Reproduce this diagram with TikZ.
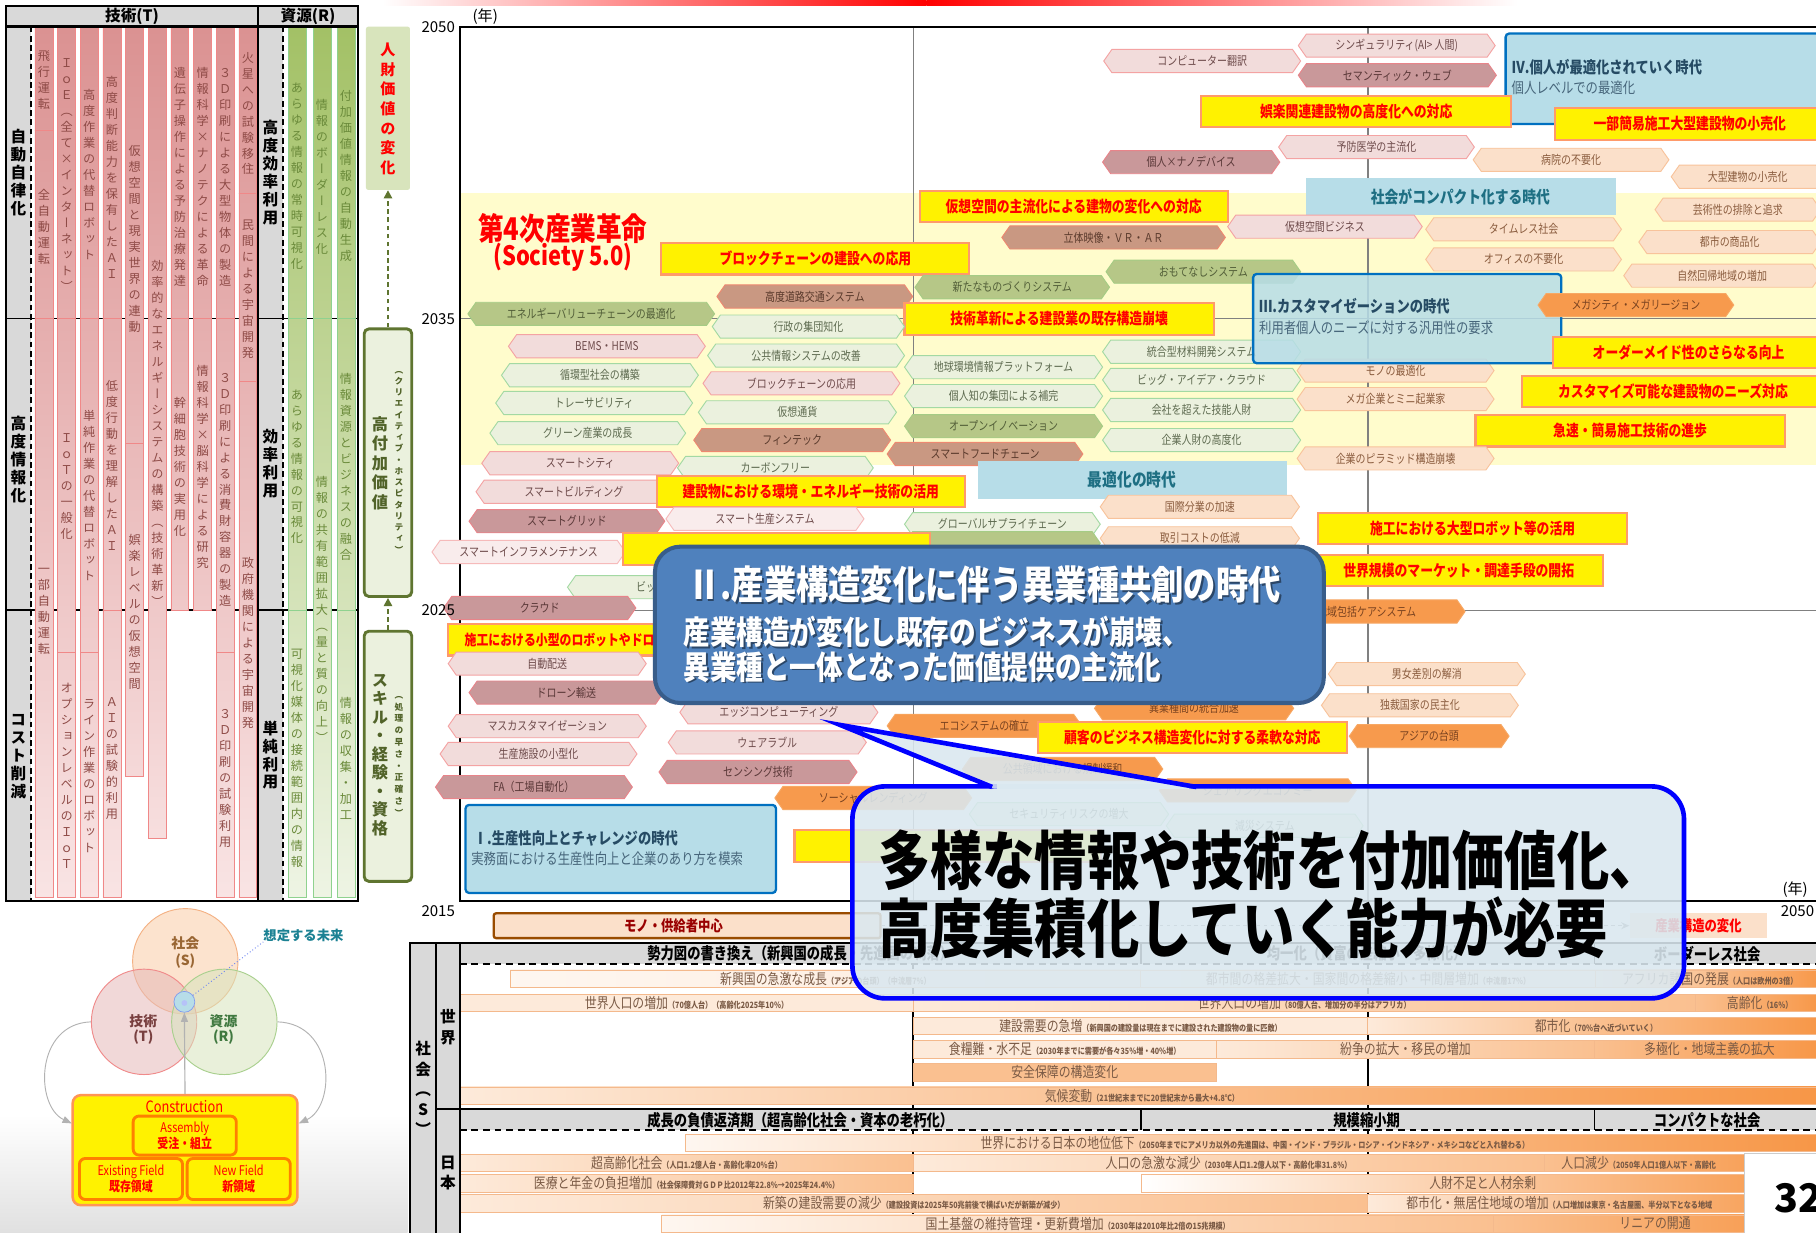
\documentclass[tikz,border=0pt]{standalone}
\usepackage{fontspec}
\setmainfont{Noto Sans CJK JP}
\newfontfamily\nc{Noto Sans CJK JP}[FakeStretch=0.82]
\newfontfamily\vjp{Noto Sans CJK JP}[RawFeature=+vert]
\usetikzlibrary{arrows.meta}
\definecolor{rT}{HTML}{DB9292}\definecolor{rB}{HTML}{F9E4E4}\definecolor{rD}{HTML}{F08888}\definecolor{rX}{HTML}{8E4A46}
\definecolor{gT}{HTML}{A3C166}\definecolor{gB}{HTML}{EEF4E4}\definecolor{gD}{HTML}{8FD28F}\definecolor{gX}{HTML}{6A8A3A}
\definecolor{hdr}{HTML}{D9D9D9}
\definecolor{pkF}{HTML}{F2DCDB}\definecolor{pkD}{HTML}{F4A3A3}\definecolor{pkT}{HTML}{6E4B4B}
\definecolor{vpkF}{HTML}{F9ECEC}\definecolor{vpkD}{HTML}{F6BABA}
\definecolor{mvF}{HTML}{C9989A}\definecolor{mvD}{HTML}{E8848A}\definecolor{mvT}{HTML}{5A3838}
\definecolor{tnF}{HTML}{C99882}\definecolor{tnD}{HTML}{EE8870}\definecolor{tnT}{HTML}{5A3A2C}
\definecolor{lgF}{HTML}{EBF1DE}\definecolor{lgD}{HTML}{A3D9A3}\definecolor{lgT}{HTML}{5E6B50}
\definecolor{dgF}{HTML}{B6C787}\definecolor{dgD}{HTML}{A5CC85}\definecolor{dgT}{HTML}{525E38}
\definecolor{loF}{HTML}{FBE0CA}\definecolor{loD}{HTML}{F8C39B}\definecolor{loT}{HTML}{8A5C3E}
\definecolor{orF}{HTML}{F79A4D}\definecolor{orD}{HTML}{F7A864}\definecolor{orT}{HTML}{7A4320}
\definecolor{ybD}{HTML}{FF9A6A}
\definecolor{eraF}{HTML}{B7DDE8}\definecolor{eraD}{HTML}{0070C0}\definecolor{eraT}{HTML}{264B64}
\definecolor{iiF}{HTML}{4F81BD}\definecolor{iiD}{HTML}{385D8A}
\definecolor{coF}{HTML}{DAE8F0}
\definecolor{barD}{HTML}{F4B98C}\definecolor{barL}{HTML}{FDEADA}\definecolor{barM}{HTML}{FAC090}\definecolor{barO}{HTML}{F79646}\definecolor{barT}{HTML}{7A5A45}
\definecolor{bxA}{HTML}{D8E4BC}\definecolor{bxB}{HTML}{EBF1DE}\definecolor{bxD}{HTML}{5F7530}
\definecolor{sF}{HTML}{FBD5B5}\definecolor{sD}{HTML}{F4B183}
\definecolor{tF}{HTML}{E6B9B8}\definecolor{tD}{HTML}{F08A8A}
\definecolor{qF}{HTML}{D7E4BD}\definecolor{qD}{HTML}{A9D08E}
\makeatletter
\def\vt#1{\vt@a#1\vt@end}
\def\vt@a#1{#1\vt@b}
\def\vt@b#1{\ifx#1\vt@end\else\\#1\expandafter\vt@b\fi}
\def\vt@end{}
\makeatother
\tikzset{
 pk/.style={fill=pkF,draw=pkD,line width=0.8}, pkt/.style={text=pkT},
 vpk/.style={fill=vpkF,draw=vpkD,line width=0.8}, vpkt/.style={text=pkT},
 mv/.style={fill=mvF,draw=mvD,line width=0.8}, mvt/.style={text=mvT},
 tn/.style={fill=tnF,draw=tnD,line width=0.8}, tnt/.style={text=tnT},
 lg/.style={fill=lgF,draw=lgD,line width=0.8}, lgt/.style={text=lgT},
 dg/.style={fill=dgF,draw=dgD,line width=0.8}, dgt/.style={text=dgT},
 lor/.style={fill=loF,draw=loD,line width=0.8}, lort/.style={text=loT},
 org/.style={fill=orF,draw=orD,line width=0.8}, orgt/.style={text=orT},
 hxt/.style={inner sep=0,font=\nc\fontsize{10.5}{12}\selectfont},
 ybox/.style={fill=yellow,draw=ybD,line width=1.8,inner sep=0,minimum height=27,text=red,font=\nc\bfseries\fontsize{13.5}{15}\selectfont},
 era/.style={fill=eraF,draw=eraD,line width=2,rounded corners=3},
 etit/.style={text=eraT,font=\nc\bfseries\fontsize{14}{16}\selectfont,anchor=west,inner sep=0},
 esub/.style={text=eraT!85,font=\nc\fontsize{13}{15}\selectfont,anchor=west,inner sep=0},
 bart/.style={text=barT,font=\nc\fontsize{12.5}{14}\selectfont,inner sep=0},
 hd/.style={font=\nc\bfseries\fontsize{14}{16}\selectfont,inner sep=0},
 yr/.style={font=\fontsize{13}{15}\selectfont,inner sep=0},
 vtxt/.style={align=center,inner sep=0,font=\vjp\fontsize{10.5}{13.8}\selectfont},
 vlab/.style={align=center,inner sep=0,font=\vjp\bfseries\fontsize{13.5}{15.5}\selectfont},
 wt/.style={text=white,font=\nc\bfseries,anchor=west,inner sep=0},
 sh/.style={text=black,text opacity=0.45,font=\nc\bfseries,anchor=west,inner sep=0},
}
\newcounter{hxc}
\newcommand\hx[5]{\stepcounter{hxc}%
  \filldraw[#1] (#2,#4) -- ({#2+7},{#4-10}) -- ({#3-7},{#4-10}) -- (#3,#4) -- ({#3-7},{#4+10}) -- ({#2+7},{#4+10}) -- cycle;
  \node[hxt,#1t] (hx\arabic{hxc}) at ({(#2+#3)/2},#4) {#5};}
\newcommand\yb[4]{\stepcounter{hxc}\node[ybox,minimum width={#2-#1}] (yb\arabic{hxc}) at ({(#1+#2)/2},#3) {#4};}
\newcommand\seg[6]{%
  \pgfmathsetmacro\pA{100-(#3-24)/7.51}%
  \pgfmathsetmacro\pB{100-(#4-24)/7.51}%
  \shadedraw[top color=#1T!\pA!#1B,bottom color=#1T!\pB!#1B,draw=#1D,line width=0.7] (#2,#3) rectangle ({#2+15.5},#4);
  \node[vtxt,text=#1X] at ({#2+7.75},#5) {\vt{#6}};}
\newcommand\sm[1]{{\bfseries\fontsize{7.5}{9}\selectfont#1}}
\newcommand\sbar[6]{\stepcounter{hxc}%
  \shadedraw[left color=#4,right color=#5,draw=barD,line width=0.6] (#1,{#3-7.5}) rectangle (#2,{#3+7.5});
  \node[bart] (sb\arabic{hxc}) at ({(#1+#2)/2},#3) {#6};}
\begin{document}
\begin{tikzpicture}[x=1pt,y=-1pt]
\useasboundingbox (0,0) rectangle (1568,1064);
\fill[white] (0,0) rectangle (1568,1064);
% background touches
\shade[top color=white,bottom color=black!12] (0,962) rectangle (352,1064);
\shade[left color=white,right color=red] (330,0) rectangle (800,4.5);
\shade[left color=red,right color=white] (800,0) rectangle (1310,4.5);

% ===== left table =====
\fill[hdr] (5,5) rectangle (309,23);
\fill[hdr] (5,23) rectangle (27,778);
\fill[hdr] (223,23) rectangle (244,778);
\draw[line width=1.5] (5,275) -- (309,275);
\draw[line width=1.5] (5,527) -- (309,527);
\seg{r}{30.2}{24}{113}{69}{飛行運転}
\seg{r}{30.2}{113}{275}{196}{全自動運転}
\seg{r}{30.2}{275}{775}{528}{一部自動運転}
\seg{r}{49.8}{24}{275}{151}{ＩｏＥ（全て×インターネット）}
\seg{r}{49.8}{275}{563}{420}{ＩｏＴの一般化}
\seg{r}{49.8}{563}{775}{670}{オプションレベルのＩｏＴ}
\seg{r}{69.3}{24}{275}{151}{高度作業の代替ロボット}
\seg{r}{69.3}{275}{563}{428}{単純作業の代替ロボット}
\seg{r}{69.3}{563}{775}{670}{ライン作業のロボット}
\seg{r}{88.9}{24}{275}{153}{高度判断能力を保有したＡＩ}
\seg{r}{88.9}{275}{527}{402}{低度行動を理解したＡＩ}
\seg{r}{88.9}{527}{775}{655}{ＡＩの試験的利用}
\seg{r}{108.5}{24}{383}{206}{仮想空間と現実世界の連動}
\seg{r}{108.5}{383}{670}{528}{娯楽レベルの仮想空間}
\seg{r}{128.1}{24}{724}{374}{効率的なエネルギーシステムの構築（技術革新）}
\seg{r}{147.6}{24}{275}{153}{遺伝子操作による予防治療発達}
\seg{r}{147.6}{275}{527}{403}{幹細胞技術の実用化}
\seg{r}{167.2}{24}{275}{153}{情報科学×ナノテクによる革命}
\seg{r}{167.2}{275}{527}{403}{情報科学×脳科学による研究}
\seg{r}{186.8}{24}{275}{153}{３Ｄ印刷による大型物体の製造}
\seg{r}{186.8}{275}{563}{423}{３Ｄ印刷による消費財容器の製造}
\seg{r}{186.8}{563}{775}{672}{３Ｄ印刷の試験利用}
\seg{r}{206.3}{24}{167}{98}{火星への試験移住}
\seg{r}{206.3}{167}{329}{250}{民間による宇宙開発}
\seg{r}{206.3}{329}{775}{555}{政府機関による宇宙開発}
\seg{g}{248.7}{24}{275}{152}{あらゆる情報の常時可視化}
\seg{g}{248.7}{275}{527}{403}{あらゆる情報の可視化}
\seg{g}{248.7}{527}{775}{655}{可視化媒体の接続範囲内の情報}
\seg{g}{270.3}{24}{275}{153}{情報のボーダーレス化}
\seg{g}{270.3}{275}{775}{526}{情報の共有範囲拡大（量と質の向上）}
\seg{g}{291}{24}{275}{152}{付加価値情報の自動生成}
\seg{g}{291}{275}{527}{403}{情報資源とビジネスの融合}
\seg{g}{291}{527}{775}{655}{情報の収集・加工}
\draw[line width=1.6,dash pattern=on 5pt off 3pt] (27,23) -- (27,778);
\draw[line width=1.6,dash pattern=on 5pt off 3pt] (244,23) -- (244,778);
\draw[line width=2] (5,5) rectangle (309,778);
\draw[line width=2] (5,23) -- (309,23);
\draw[line width=2] (223,5) -- (223,778);
\node[font=\bfseries\fontsize{13.5}{15}\selectfont,inner sep=0] (hT) at (114,14) {技術(T)};
\node[font=\bfseries\fontsize{13.5}{15}\selectfont,inner sep=0] (hR) at (266,14) {資源(R)};
\node[vlab] (l1) at (16,149) {\vt{自動自律化}};
\node[vlab] (l2) at (16,397) {\vt{高度情報化}};
\node[vlab] (l3) at (16,653) {\vt{コスト削減}};
\node[vlab] (l4) at (233.5,149) {\vt{高度効率利用}};
\node[vlab] (l5) at (233.5,400) {\vt{効率利用}};
\node[vlab] (l6) at (233.5,652) {\vt{単純利用}};

% ===== value boxes =====
\node[fill=bxA,minimum width=38,minimum height=141,inner sep=0,rounded corners=2] (vb1) at (335,93.5) {};
\node[align=center,inner sep=0,text=red,font=\vjp\bfseries\fontsize{13}{17}\selectfont] (vb1t) at (335,94) {\vt{人財価値の変化}};
\node[draw=bxD,fill=bxB,line width=2.5,rounded corners=4,minimum width=41,minimum height=231,inner sep=0] (vb2) at (335,399.5) {};
\node[align=center,inner sep=0,text=bxD!85!black,font=\vjp\bfseries\fontsize{14}{16.8}\selectfont] (vb2a) at (328,400) {\vt{高付加価値}};
\node[align=center,inner sep=0,text=bxD!85!black,font=\vjp\bfseries\fontsize{7.5}{9.7}\selectfont] (vb2b) at (344.5,399) {\vt{（クリエイティブ・ホスピタリティ）}};
\node[draw=bxD,fill=bxB,line width=2.5,rounded corners=4,minimum width=41,minimum height=216,inner sep=0] (vb3) at (335,653) {};
\node[align=center,inner sep=0,text=bxD!85!black,font=\vjp\bfseries\fontsize{14}{16}\selectfont] (vb3a) at (328,652) {\vt{スキル・経験・資格}};
\node[align=center,inner sep=0,text=bxD!85!black,font=\vjp\bfseries\fontsize{7.5}{10.2}\selectfont] (vb3b) at (344.5,653) {\vt{（処理の早さ・正確さ）}};
\draw[bxD,line width=1.8,dash pattern=on 4pt off 3pt,-{Triangle[length=7,width=7]}] (vb2.north) -- (vb1.south);
\draw[bxD,line width=1.8,dash pattern=on 4pt off 3pt,-{Triangle[length=7,width=7]}] (vb3.north) -- (vb2.south);

% ===== Venn =====
\node[circle,minimum size=91,fill=sF,fill opacity=.65,draw=sD,line width=0.8] (soc) at (160,830) {};
\node[circle,minimum size=91,fill=tF,fill opacity=.55,draw=tD,line width=0.8] (tec) at (124.4,882.3) {};
\node[circle,minimum size=91,fill=qF,fill opacity=.55,draw=qD,line width=0.8] (res) at (193.7,882.3) {};
\node[circle,minimum size=18,fill=eraF,draw=eraF!70!blue,line width=0.6] (fut) at (159.2,865) {};
\node[circle,minimum size=5,fill=eraF!60!blue!50,inner sep=0] (futc) at (159.2,866) {};
\node[font=\bfseries\fontsize{12}{14}\selectfont,text=brown!80!black,inner sep=0] (socA) at (160,814.6) {社会};
\node[font=\bfseries\fontsize{12}{14}\selectfont,text=brown!80!black,inner sep=0] (socB) at (160,830) {(S)};
\node[font=\bfseries\fontsize{12}{14}\selectfont,text=red!30!black!75,inner sep=0] (tecA) at (123.8,882) {技術};
\node[font=\bfseries\fontsize{12}{14}\selectfont,text=red!30!black!75,inner sep=0] (tecB) at (123.8,895.5) {(T)};
\node[font=\bfseries\fontsize{12}{14}\selectfont,text=green!30!black!75,inner sep=0] (resA) at (193,882) {資源};
\node[font=\bfseries\fontsize{12}{14}\selectfont,text=green!30!black!75,inner sep=0] (resB) at (193,895.5) {(R)};
\node[font=\bfseries\fontsize{11.5}{13}\selectfont,text=eraT!70!cyan,inner sep=0] (mirai) at (262,807.6) {想定する未来};
\draw[eraF!60!blue,dotted,line width=0.8] (fut) -- (mirai.south west);
\node[draw=ybD!80!orange,fill=yellow,line width=2.2,rounded corners=7,minimum width=194,minimum height=95,inner sep=0] (con) at (159.75,993.1) {};
\node[text=red,font=\nc\fontsize{13.5}{15}\selectfont,inner sep=0] (conT) at (159.2,955.5) {Construction};
\node[draw=orange,fill=yellow,line width=2.5,rounded corners=5,minimum width=89,minimum height=33.7,inner sep=0,align=center,text=red,font=\nc\fontsize{11.5}{13.5}\selectfont] (asm) at (159.5,980.5) {Assembly\\\bfseries 受注・組立};
\node[draw=orange,fill=yellow,line width=2.5,rounded corners=5,minimum width=89,minimum height=35.4,inner sep=0,align=center,text=red,font=\nc\fontsize{11.5}{13.5}\selectfont] (exf) at (113.1,1018) {Existing Field\\\bfseries 既存領域};
\node[draw=orange,fill=yellow,line width=2.5,rounded corners=5,minimum width=89,minimum height=35.4,inner sep=0,align=center,text=red,font=\nc\fontsize{11.5}{13.5}\selectfont] (nwf) at (206.1,1018) {New Field\\\bfseries 新領域};
\coordinate (ca) at (62,970);
\coordinate (cb) at (258,970);
\draw[gray!60,line width=1,-{Triangle[length=8,width=6]}] (con.north) -- (fut.south);
\draw[gray!60,line width=0.8,-{Triangle[length=8,width=6]}] (tec.west) .. controls (30,884) and (30,955) .. (ca);
\draw[gray!60,line width=0.8,-{Triangle[length=8,width=6]}] (res.east) .. controls (290,884) and (290,955) .. (cb);

% ===== timeline frame =====
\fill[yellow!20] (397,166.5) rectangle (1575,401.6);
\draw[gray,line width=1.4] (397,275) -- (1575,275);
\draw[gray,line width=1.4] (397,527) -- (1575,527);
\draw[gray,line width=1.4] (788.6,23.6) -- (788.6,778);
\draw[gray,line width=1.4] (1181,23.6) -- (1181,778);
\draw[line width=2] (1575,23.6) -- (397,23.6) -- (397,778) -- (1575,778);
\node[text=red,font=\nc\bfseries\fontsize{27}{30}\selectfont,inner sep=0] (s50a) at (486,197) {第4次産業革命};
\node[text=red,font=\nc\bfseries\fontsize{23}{26}\selectfont,inner sep=0] (s50b) at (486,222.5) {(Society 5.0)};

% ===== tags =====
\hx{pk}{953}{1123}{52.7}{コンピューター翻訳}
\hx{pk}{1121}{1291}{39.4}{シンギュラリティ(AI> 人間)}
\hx{mv}{1121}{1292}{65}{セマンティック・ウェブ}
\draw[era] (1300,29) rectangle (1578,107);
\node[etit] (e4a) at (1305,57.6) {Ⅳ.個人が最適化されていく時代};
\node[esub] (e4b) at (1305,76) {個人レベルでの最適化};
\yb{1037}{1305}{96}{娯楽関連建設物の高度化への対応}
\yb{1343}{1575}{107}{一部簡易施工大型建設物の小売化}
\hx{pk}{1104}{1273}{127}{予防医学の主流化}
\hx{mv}{952}{1105}{140}{個人×ナノデバイス}
\hx{lor}{1272}{1441}{138}{病院の不要化}
\hx{lor}{1443}{1575}{152.6}{大型建物の小売化}
\fill[eraF] (1128,153.5) rectangle (1395,185.7);
\node[text=eraT!80!cyan,font=\nc\bfseries\fontsize{14.5}{16}\selectfont,inner sep=0] (ecmp) at (1261,170) {社会がコンパクト化する時代};
\hx{lor}{1429}{1572}{181}{芸術性の排除と追求}
\yb{794}{1060}{178.5}{仮想空間の主流化による建物の変化への対応}
\hx{tn}{865}{1058}{205}{立体映像・ＶＲ・ＡＲ}
\hx{pk}{1060}{1228}{195.7}{仮想空間ビジネス}
\hx{lor}{1231}{1400}{198}{タイムレス社会}
\hx{lor}{1415}{1572}{209}{都市の商品化}
\hx{lor}{1231}{1400}{224}{オフィスの不要化}
\hx{lor}{1402}{1572}{238}{自然回帰地域の増加}
\yb{571}{837}{223.5}{ブロックチェーンの建設への応用}
\hx{dg}{955}{1123}{234.6}{おもてなしシステム}
\hx{dg}{790}{958}{248}{新たなものづくりシステム}
\hx{tn}{619}{788}{256}{高度道路交通システム}
\yb{781}{1048}{275.5}{技術革新による建設業の既存構造崩壊}
\hx{dg}{404}{617}{271}{エネルギーバリューチェーンの最適化}
\hx{lg}{615}{781}{282}{行政の集団知化}
\hx{lg}{952}{1123}{303.7}{統合型材料開発システム}
\hx{lor}{1120}{1290}{320}{モノの最適化}
\filldraw[era,fill opacity=0.85] (1082,236.6) rectangle (1348,313.6);
\node[etit] (e3a) at (1087,264) {Ⅲ.カスタマイゼーションの時代};
\node[esub] (e3b) at (1087,283) {利用者個人のニーズに対する汎用性の要求};
\hx{org}{1328}{1497}{263.4}{メガシティ・メガリージョン}
\hx{pk}{439}{609}{299}{BEMS・HEMS}
\yb{1341}{1575}{304.5}{オーダーメイド性のさらなる向上}
\hx{lg}{611}{781}{307}{公共情報システムの改善}
\hx{lg}{781}{952}{317}{地球環境情報プラットフォーム}
\hx{lg}{433}{603}{324}{循環型社会の構築}
\hx{lg}{952}{1123}{328}{ビッグ・アイデア・クラウド}
\yb{1314}{1575}{337.8}{カスタマイズ可能な建設物のニーズ対応}
\hx{pk}{607}{777}{331}{ブロックチェーンの応用}
\hx{lg}{781}{952}{342}{個人知の集団による補完}
\hx{lor}{1120}{1290}{344.6}{メガ企業とミニ起業家}
\hx{lg}{428}{598}{348}{トレーサビリティ}
\hx{lg}{952}{1123}{354}{会社を超えた技能人財}
\hx{lg}{603}{774}{356}{仮想通貨}
\hx{dg}{781}{952}{368}{オープンイノベーション}
\hx{lg}{423}{592}{374}{グリーン産業の成長}
\yb{1274}{1541}{372}{急速・簡易施工技術の進歩}
\hx{lg}{952}{1123}{380}{企業人財の高度化}
\hx{tn}{599}{769}{380}{フィンテック}
\hx{tn}{766}{935}{392}{スマートフードチェーン}
\hx{lor}{1120}{1290}{395.8}{企業のピラミッド構造崩壊}
\hx{pk}{416}{586}{400}{スマートシティ}
\hx{lg}{585}{754}{404}{カーボンフリー}
\fill[eraF] (844,398) rectangle (1111,431);
\node[text=eraT!80!cyan,font=\nc\bfseries\fontsize{15.5}{17}\selectfont,inner sep=0] (eopt) at (977.5,414.5) {最適化の時代};
\hx{pk}{411}{580}{424.6}{スマートビルディング}
\yb{567}{833}{424.5}{建設物における環境・エネルギー技術の活用}
\hx{lor}{950}{1122}{437.6}{国際分業の加速}
\hx{mv}{405}{574}{450}{スマートグリッド}
\hx{vpk}{575}{746}{448}{スマート生産システム}
\hx{lg}{781}{950}{452.6}{グローバルサプライチェーン}
\yb{1138}{1405}{456.3}{施工における大型ロボット等の活用}
\hx{lor}{950}{1122}{464.8}{取引コストの低減}
\hx{dg}{781}{950}{469}{}
\hx{vpk}{373}{540}{476.6}{スマートインフラメンテナンス}
\yb{538}{803}{474}{}
\yb{1135}{1384}{492.5}{世界規模のマーケット・調達手段の開拓}
\hx{lg}{490}{660}{507}{}
\node[hxt,lgt,anchor=west] (bigd) at (549,507) {ビッ};
\hx{mv}{383}{549}{525}{クラウド}
\hx{org}{1000}{1265}{528}{}
\node[hxt,orgt] (chiiki) at (1180,528) {地域包括ケアシステム};
\yb{387}{600}{552.5}{}
\node[anchor=west,text=red,font=\nc\bfseries\fontsize{12.5}{14}\selectfont,inner sep=0] (ybt1) at (401,552.5) {施工における小型のロボットやドローン};
\hx{pk}{387}{558}{573}{自動配送}
\hx{mv}{405}{573}{598}{ドローン輸送}
\hx{lor}{1147}{1317}{582}{男女差別の解消}
\hx{org}{945}{1117}{611.6}{異業種間の統合加速}
\hx{lor}{1141}{1311}{609}{独裁国家の民主化}
\hx{pk}{387}{558}{627}{マスカスタマイゼーション}
\hx{pk}{587}{758}{615}{エッジコンピューティング}
\hx{org}{766}{934}{626.7}{エコシステムの確立}
\yb{896}{1163}{637}{顧客のビジネス構造変化に対する柔軟な対応}
\hx{org}{1165}{1303}{635.6}{アジアの台頭}
\hx{pk}{380}{550}{651}{生産施設の小型化}
\hx{pk}{577}{748}{641}{ウェアラブル}
\hx{org}{831}{1004}{664}{公共領域における規制緩和}
\hx{mv}{569}{740}{666.6}{センシング技術}
\hx{mv}{376}{546}{679.6}{FA（工場自動化）}
\hx{org}{1001}{1171}{682.5}{シェアリングエコノミー}
\hx{org}{669}{839}{689}{ソーシャルレンディング}
\hx{lg}{837}{1009}{703}{セキュリティリスクの増大}
\hx{lg}{1007}{1177}{713}{減災システム}
\draw[era] (402,695) rectangle (670,771);
\node[etit] (e1a) at (409,723.7) {Ⅰ.生産性向上とチャレンジの時代};
\node[esub] (e1b) at (406.8,741.8) {実務面における生産性向上と企業のあり方を模索};
\yb{686}{951}{730.5}{}

% ===== year labels (on top) =====
\node[yr,anchor=east] (y50) at (393,23) {2050};
\node[yr] (ynen) at (419,14.4) {(年)};
\node[yr,anchor=east] (y35) at (393,275.8) {2035};
\node[yr,anchor=east] (y25) at (393,526.8) {2025};
\node[yr,anchor=east] (y15) at (393,786.7) {2015};
\node[yr] (ynen2) at (1550,768) {(年)};
\node[yr] (y50b) at (1552,787) {2050};

% ===== society table =====
\fill[hdr] (354,814) rectangle (397,1070);
\fill[hdr] (397,814) rectangle (1575,832);
\fill[hdr] (397,957.6) rectangle (1575,976);
\draw[line width=1.6] (788.6,832) -- (788.6,957.6);
\draw[line width=1.6] (1181,832) -- (1181,957.6);
\draw[line width=1.6] (788.6,976) -- (788.6,1070);
\draw[line width=1.6] (1181,976) -- (1181,1070);
\sbar{440.5}{985}{845}{barL!40!white}{barL}{新興国の急激な成長\sm{（アジアの台頭）（中流層7\%）}}
\sbar{985}{1377.5}{845}{barL!60!white}{barL}{都市間の格差拡大・国家間の格差縮小・中間層増加\sm{（中流層17\%）}}
\sbar{1377.5}{1575}{845}{barL}{barO}{アフリカ諸国の発展\sm{（人口は欧州の3倍）}}
\sbar{397}{788.6}{866}{barL}{barL}{世界人口の増加\sm{（70億人台）（高齢化2025年10\%）}}
\sbar{788.6}{1463.7}{866}{barL}{barM}{世界人口の増加\sm{（80億人台、増加分の半分はアフリカ）}}
\sbar{1463.7}{1575}{866}{barM}{barO}{高齢化\sm{（16\%）}}
\sbar{788.6}{1181}{886}{barL}{barL}{建設需要の急増\sm{（新興国の建設量は現在までに建設された建設物の量に匹敵）}}
\sbar{1181}{1575}{886}{barL}{barO}{都市化\sm{（70\%台へ近づいていく）}}
\sbar{788.6}{1050}{906}{barL}{barL}{食糧難・水不足\sm{（2030年までに需要が各々35\%増・40\%増）}}
\sbar{1050}{1377}{906}{barL}{barM}{紛争の拡大・移民の増加}
\sbar{1377}{1575}{906}{barM}{barO}{多極化・地域主義の拡大}
\sbar{788.6}{1050}{926}{barM}{barM}{安全保障の構造変化}
\sbar{397}{1575}{946}{barL}{barO}{気候変動\sm{（21世紀末までに20世紀末から最大+4.8℃）}}
\sbar{592}{1575}{987}{barL!40!white}{barO}{世界における日本の地位低下\sm{（2050年までにアメリカ以外の先進国は、中国・インド・ブラジル・ロシア・インドネシア・メキシコなどと入れ替わる）}}
\sbar{397}{788.6}{1004}{barL}{barM}{超高齢化社会\sm{（人口1.2億人台・高齢化率20\%台）}}
\sbar{788.6}{1333}{1004}{barL}{barM}{人口の急激な減少\sm{（2030年人口1.2億人以下・高齢化率31.8\%）}}
\sbar{1333}{1575}{1004}{barM}{barO}{}
\node[bart,anchor=west] (jp3) at (1348,1004) {人口減少\sm{（2050年人口1億人以下・高齢化}};
\sbar{397}{788.6}{1021.6}{barL}{barM}{医療と年金の負担増加\sm{（社会保障費対ＧＤＰ比2012年22.8\%→2025年24.4\%）}}
\sbar{985.5}{1575}{1021.6}{white}{barO}{人財不足と人材余剰}
\sbar{397}{1181}{1039}{barL}{barM}{新築の建設需要の減少\sm{（建設投資は2025年50兆前後で横ばいだが新築が減少）}}
\sbar{1181}{1575}{1039}{barL}{barO}{}
\node[bart,anchor=west] (jp7) at (1214,1039) {都市化・無居住地域の増加\sm{（人口増加は東京・名古屋圏、半分以下となる地域}};
\sbar{571.4}{1289.8}{1056.5}{barL!40!white}{barM}{国土基盤の維持管理・更新費増加\sm{（2030年は2010年比2倍の15兆規模）}}
\sbar{1289.8}{1575}{1056.5}{barM}{barO}{}
\node[bart] (jp9) at (1429,1056.5) {リニアの開通};
\draw[line width=1.2] (985,814) -- (985,832);
\draw[line width=1.2] (1376.5,814) -- (1376.5,832);
\draw[line width=1.2] (985,957.6) -- (985,976);
\draw[line width=1.2] (1376.5,957.6) -- (1376.5,976);
\draw[line width=1.6,dash pattern=on 6pt off 4pt] (397,832) -- (1575,832);
\draw[line width=1.6,dash pattern=on 6pt off 4pt] (397,976) -- (1575,976);
\draw[line width=2] (354,1070) -- (354,814) -- (1575,814);
\draw[line width=2] (376.5,814) -- (376.5,1070);
\draw[line width=2] (397,814) -- (397,1070);
\draw[line width=2] (376.5,957.6) -- (1575,957.6);
\node[hd] (w1) at (691,823.5) {勢力図の書き換え（新興国の成長・先進国の凋落）};
\node[hd] (w2) at (1180,823.5) {均一化（貧富の差縮小・多様化）};
\node[hd] (w3) at (1474,823.5) {ボーダーレス社会};
\node[hd] (j1) at (691,967) {成長の負債返済期（超高齢化社会・資本の老朽化）};
\node[hd] (j2) at (1180,967) {規模縮小期};
\node[hd] (j3) at (1474,967) {コンパクトな社会};
\node[vlab,font=\vjp\bfseries\fontsize{13.5}{17.5}\selectfont] (ls) at (365.3,940) {\vt{社会（S）}};
\node[vlab,font=\vjp\bfseries\fontsize{13.5}{17.5}\selectfont] (lw) at (386.7,887) {\vt{世界}};
\node[vlab,font=\vjp\bfseries\fontsize{13.5}{17.5}\selectfont] (lj) at (386.7,1013) {\vt{日本}};

% ===== mono box =====
\node[fill=loF,draw=orange!60!black,line width=2,rounded corners=2,minimum width=334,minimum height=21.4,inner sep=0] (mono) at (593.3,799.3) {};
\node[text=red!60!black,font=\nc\bfseries\fontsize{13}{15}\selectfont,inner sep=0] (monot) at (581.5,799) {モノ・供給者中心};
\node[fill=loF,minimum width=119,minimum height=21.4,inner sep=0] (sangyo) at (1466.5,799.3) {};
\node[text=red,font=\nc\bfseries\fontsize{13}{15}\selectfont,inner sep=0] (sangyot) at (1466.5,799) {産業構造の変化};
\draw[gray,line width=1.2,dashed,-{Stealth[length=7,width=6]}] (mono.east) -- (sangyo.west);

% ===== II box =====
\filldraw[fill=iiF,draw=iiD,line width=3.5,rounded corners=22] (565.5,472) rectangle (1143,607);
\node[sh,font=\nc\bfseries\fontsize{34}{38}\selectfont] (t2s) at (595.5,506.5) {Ⅱ.産業構造変化に伴う異業種共創の時代};
\node[wt,font=\nc\bfseries\fontsize{34}{38}\selectfont] (t2) at (594,505) {Ⅱ.産業構造変化に伴う異業種共創の時代};
\node[sh,font=\nc\bfseries\fontsize{28}{32}\selectfont] (t2bs) at (591.5,547) {産業構造が変化し既存のビジネスが崩壊、};
\node[wt,font=\nc\bfseries\fontsize{28}{32}\selectfont] (t2b) at (590,545.5) {産業構造が変化し既存のビジネスが崩壊、};
\node[sh,font=\nc\bfseries\fontsize{28}{32}\selectfont] (t2cs) at (591.5,577.2) {異業種と一体となった価値提供の主流化};
\node[wt,font=\nc\bfseries\fontsize{28}{32}\selectfont] (t2c) at (590,575.7) {異業種と一体となった価値提供の主流化};

% ===== callout =====
\filldraw[fill=coF,fill opacity=0.88,draw=blue,line width=4,rounded corners=28] (736,679) rectangle (1454,862);
\fill[coF,fill opacity=0.88] (858.5,681) -- (725.6,626) -- (1030.5,681) -- cycle;
\draw[coF,line width=4.6] (861,679) -- (1027,679);
\coordinate (tip) at (725.6,626);
\draw[blue,line width=4,line join=miter] (856.6,679.5) -- (tip) -- (1033,679.5);
\node[anchor=west,inner sep=0,font=\nc\bfseries\fontsize{55}{58}\selectfont] (c1) at (758,743) {多様な情報や技術を付加価値化、};
\node[anchor=west,inner sep=0,font=\nc\bfseries\fontsize{55}{58}\selectfont] (c2) at (758,801) {高度集積化していく能力が必要};

% ===== page number =====
\filldraw[fill=white,draw=gray!40,line width=1] (1506,996) rectangle (1580,1070);
\node[font=\bfseries\fontsize{34}{38}\selectfont,inner sep=0] (pg) at (1553,1034.6) {32};
\end{tikzpicture}
\end{document}
